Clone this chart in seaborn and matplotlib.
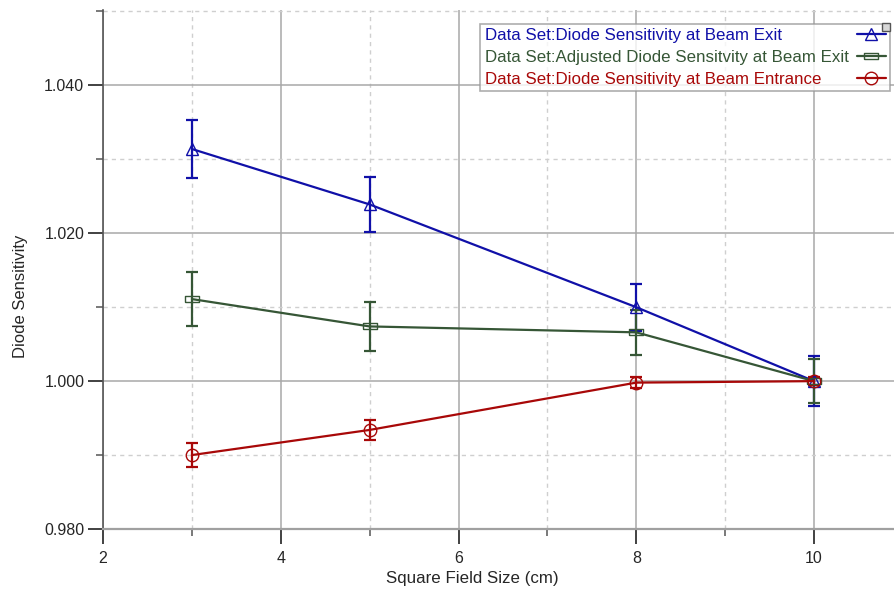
import matplotlib
matplotlib.use("Agg")
import matplotlib.pyplot as plt
from matplotlib.ticker import MultipleLocator, FormatStrFormatter
from matplotlib.patches import Rectangle
import seaborn as sns
import pandas as pd

field_size = [3, 5, 8, 10]

exit_sens = [1.0314, 1.0239, 1.0100, 1.0000]
exit_err = [0.0039, 0.0037, 0.0032, 0.0034]

adj_sens = [1.0111, 1.0074, 1.0066, 1.0000]
adj_err = [0.0037, 0.0033, 0.0030, 0.0030]

entr_sens = [0.9900, 0.9934, 0.9998, 1.0000]
entr_err = [0.0016, 0.0013, 0.0007, 0.0005]

series_names = [
    "Data Set:Diode Sensitivity at Beam Exit",
    "Data Set:Adjusted Diode Sensitvity at Beam Exit",
    "Data Set:Diode Sensitivity at Beam Entrance",
]

sns.set_theme(style="white")
plt.rcParams["font.family"] = ["Liberation Sans", "DejaVu Sans"]

W, H = 894, 591
fig = plt.figure(figsize=(W / 100, H / 100), dpi=100)
ax = fig.add_axes([103 / W, 1 - 529 / H, 791 / W, 519 / H])

colors = ["#1010a8", "#365636", "#a80808"]
# wide open rectangle for the adjusted series
rect_marker = [(-1, -0.45), (1, -0.45), (1, 0.45), (-1, 0.45), (-1, -0.45)]
markers = ["^", rect_marker, "o"]
msizes = [9, 10.5, 9]
values = [exit_sens, adj_sens, entr_sens]
errors = [exit_err, adj_err, entr_err]

ax.set_axisbelow(True)
ax.grid(which="major", color="#a8a8a8", linestyle="-", linewidth=1.1)
ax.grid(which="minor", color="#cfcfcf", linestyle=(0, (3, 3)), linewidth=1.0)

for name, vals, errs, c, m, ms in zip(series_names, values, errors, colors, markers, msizes):
    df = pd.DataFrame({"size": field_size, "sens": vals})
    ax.errorbar(df["size"], df["sens"], yerr=errs, fmt="none", ecolor=c,
                elinewidth=1.6, capsize=4.5, capthick=1.6, zorder=3)
    sns.lineplot(data=df, x="size", y="sens", ax=ax, color=c, linewidth=1.6,
                 marker=m, markersize=ms, markerfacecolor="none",
                 markeredgecolor=c, markeredgewidth=1.0, label=name, zorder=4)

ax.set_xlim(2, 10.9)
ax.set_ylim(0.98, 1.0502)
ax.xaxis.set_major_locator(MultipleLocator(2))
ax.xaxis.set_minor_locator(MultipleLocator(1))
ax.yaxis.set_major_locator(MultipleLocator(0.02))
ax.yaxis.set_minor_locator(MultipleLocator(0.01))
ax.yaxis.set_major_formatter(FormatStrFormatter("%.3f"))

for side in ["top", "right"]:
    ax.spines[side].set_visible(False)
ax.spines["left"].set_color("#555555")
ax.spines["bottom"].set_color("#a0a0a0")
ax.spines["left"].set_linewidth(1.2)
ax.spines["bottom"].set_linewidth(1.6)

ax.tick_params(which="major", direction="out", length=11, width=1.3,
               color="#333333", labelsize=11.5, pad=2.5, left=True, bottom=True)
ax.tick_params(which="minor", direction="out", length=5, width=1.1,
               color="#555555", left=True, bottom=True)
ax.tick_params(axis="x", which="major", pad=4.5)

ax.set_xlabel("Square Field Size (cm)", fontsize=12.2)
ax.set_ylabel("Diode Sensitivity", fontsize=12)
ax.xaxis.set_label_coords((472 - 103) / 791, -0.08)
ax.yaxis.set_label_coords((28 - 103) / 791, (529 - 296) / 519)

leg = ax.legend(loc="upper right", bbox_to_anchor=(890 / W, 1 - 24 / H),
                bbox_transform=fig.transFigure, markerfirst=False,
                frameon=True, fancybox=False, fontsize=12.2, handlelength=1.7,
                borderpad=0.25, labelspacing=0.4, handletextpad=0.5,
                borderaxespad=0.0)
leg.get_frame().set_edgecolor("#999999")
leg.get_frame().set_linewidth(1.2)
for txt, c in zip(leg.get_texts(), colors):
    txt.set_color(c)

# left-align the labels while keeping the handles flush on the right
fig.canvas.draw()
renderer = fig.canvas.get_renderer()
column = leg._legend_handle_box.get_children()[0]
rows = column.get_children()
row_w = max(r.get_bbox(renderer).width for r in rows)
for r in rows:
    r.width = row_w
    r.mode = "expand"
column.align = "left"
fig.canvas.draw()

# small grip box on the legend's corner
bb = leg.get_window_extent(renderer)
s = 8
fig.patches.append(Rectangle((bb.x1 - s, bb.y1 - s + 1), s, s,
                             transform=None, facecolor="#d8d8d8",
                             edgecolor="#555555", linewidth=1.0, zorder=10))

fig.savefig("out.png", dpi=100)
